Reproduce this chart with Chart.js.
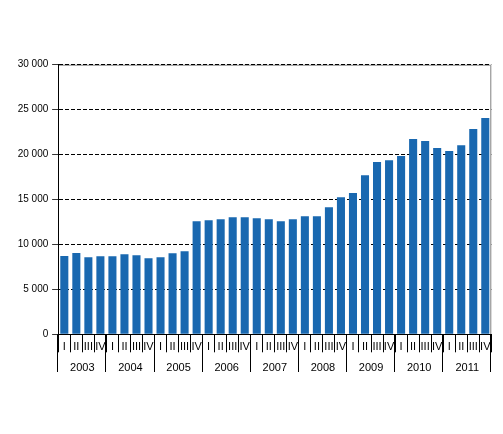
<!DOCTYPE html>
<html>
<head>
<meta charset="utf-8">
<script src="https://cdn.jsdelivr.net/npm/chart.js@4.4.0/dist/chart.umd.min.js"></script>
<style>
html,body{margin:0;padding:0;background:#fff;}
#wrap{width:503px;height:434px;position:relative;}
</style>
</head>
<body>
<div id="wrap"><canvas id="c" width="503" height="434"></canvas></div>
<script>
const years = ['2003','2004','2005','2006','2007','2008','2009','2010','2011'];
const quarterNames = ['I','II','III','IV'];
const values = [8700, 9060, 8580, 8690, 8690, 8910, 8800, 8470, 8580, 9020, 9250, 12590,
  12700, 12810, 13030, 13030, 12920, 12810, 12590, 12810, 13150, 13150, 14150, 15260,
  15710, 17710, 19160, 19380, 19830, 21720, 21500, 20720, 20390, 21050, 22840, 24060];
const yTicks = [0, 5000, 10000, 15000, 20000, 25000, 30000];

const categories = [];
years.forEach(y => quarterNames.forEach(q => categories.push(q)));

const fontFam = '"Liberation Sans", Arial, sans-serif';

const framePlugin = {
  id: 'frame',
  beforeDraw(chart) {
    const a = chart.chartArea, ctx = chart.ctx;
    ctx.save();
    ctx.strokeStyle = '#808080';
    ctx.lineWidth = 1;
    ctx.beginPath();
    ctx.moveTo(a.left, a.top + 0.5);
    ctx.lineTo(a.right - 0.5, a.top + 0.5);
    ctx.lineTo(a.right - 0.5, a.bottom);
    ctx.stroke();
    ctx.restore();
  },
  afterDraw(chart) {
    const xs = chart.scales.x, ctx = chart.ctx, a = chart.chartArea;
    const half = (xs.getPixelForValue(1) - xs.getPixelForValue(0)) / 2;
    ctx.save();
    ctx.strokeStyle = '#000';
    ctx.lineWidth = 1;
    ctx.beginPath();
    for (let k = 0; k <= years.length; k++) {
      let px = k < years.length ? xs.getPixelForValue(k * 4) - half : xs.getPixelForValue(categories.length - 1) + half;
      px = Math.round(px) - 0.5;
      ctx.moveTo(px, a.bottom);
      ctx.lineTo(px, 372);
    }
    ctx.stroke();
    ctx.restore();
  }
};

new Chart(document.getElementById('c'), {
  type: 'bar',
  data: {
    labels: categories,
    datasets: [{
      data: values,
      backgroundColor: 'rgb(25,104,176)',
      borderWidth: 0,
      barPercentage: 0.67,
      categoryPercentage: 1.0
    }]
  },
  options: {
    responsive: false,
    animation: false,
    devicePixelRatio: 1,
    plugins: { legend: { display: false }, tooltip: { enabled: false } },
    layout: { padding: { top: 64.7, right: 11.7, left: 0, bottom: 39.7 } },
    scales: {
      y: {
        min: 0, max: 30000,
        afterFit(s) { s.width = 58.3; },
        afterBuildTicks(s) { s.ticks = yTicks.map(v => ({ value: v })); },
        ticks: {
          color: '#000',
          padding: 4,
          font: { family: fontFam, size: 10 },
          callback: v => String(v).replace(/\B(?=(\d{3})+(?!\d))/g, ' ')
        },
        grid: { color: '#000', lineWidth: 1, tickLength: 6, tickColor: '#000', tickBorderDash: [1, 0] },
        border: { display: true, color: '#000', dash: [4, 2] }
      },
      x: {
        weight: 1,
        offset: true,
        afterFit(s) { s.height = 20; },
        ticks: {
          color: '#000', padding: -12, maxRotation: 0, autoSkip: false,
          font: { family: fontFam, size: 11 }
        },
        grid: { offset: true, drawOnChartArea: false, tickLength: 18, color: '#000', tickColor: '#000' },
        border: { display: true, color: '#000' }
      },
      x2: {
        type: 'category',
        position: 'bottom',
        weight: 2,
        labels: years,
        offset: true,
        afterFit(s) { s.height = 40; },
        ticks: { color: '#000', padding: -1, maxRotation: 0, autoSkip: false, font: { family: fontFam, size: 11 } },
        grid: { display: false },
        border: { display: false }
      }
    }
  },
  plugins: [framePlugin]
});
</script>
</body>
</html>
